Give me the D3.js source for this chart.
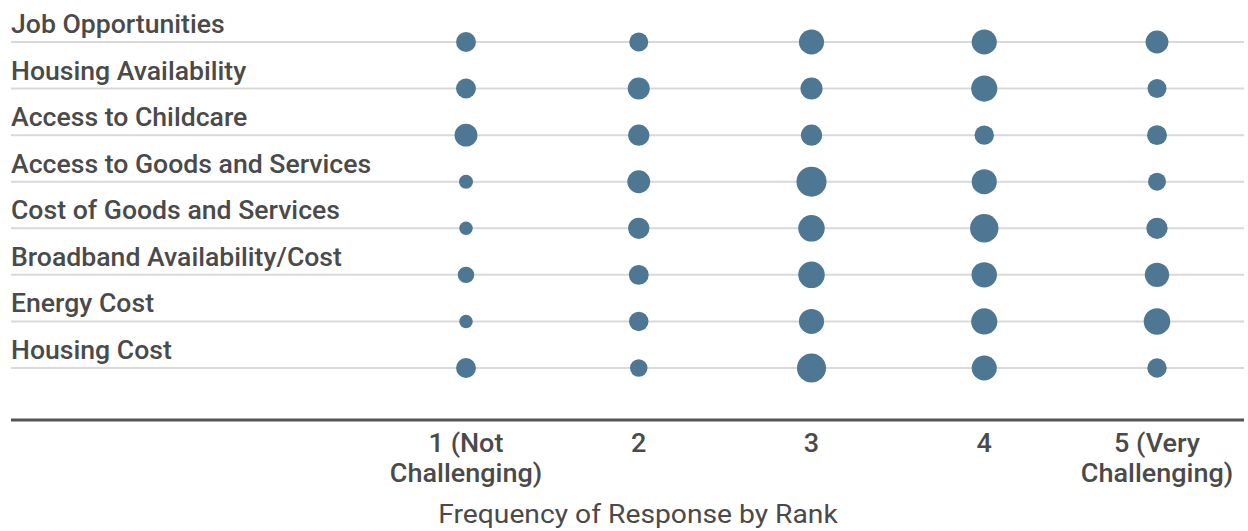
<!DOCTYPE html>
<html>
<head>
<meta charset="utf-8">
<script src="https://cdn.jsdelivr.net/npm/d3@7"></script>
<style>
  body { margin: 0; background: #fff; }
  svg text { font-family: Roboto, "Noto Sans", sans-serif; fill: #4a4a4a; }
</style>
</head>
<body>
<div class="chart"></div>
<script>
// survey challenges, frequency of each rank
var challenges = ["Job Opportunities", "Housing Availability", "Access to Childcare",
  "Access to Goods and Services", "Cost of Goods and Services",
  "Broadband Availability/Cost", "Energy Cost", "Housing Cost"];
var ranks = ["1", "2", "3", "4", "5"];
var rankLabels = [["1 (Not", "Challenging)"], ["2"], ["3"], ["4"], ["5 (Very", "Challenging)"]];

var jobOpp = [22, 20, 35, 35, 29];
var housingAvail = [22, 27, 27, 38, 20];
var childcare = [29, 25, 25, 21, 22];
var accessGoods = [11, 29, 50, 35, 18];
var costGoods = [10, 25, 39, 45, 25];
var broadband = [15, 22, 39, 36, 33];
var energyCost = [10, 21, 35, 38, 39];
var housingCost = [22, 17, 47, 35, 21];

var series = [jobOpp, housingAvail, childcare, accessGoods, costGoods, broadband, energyCost, housingCost];

function drawChart() {
    var w = 1248;
    var h = 531;
    var svg = d3.select(".chart")
                .append("svg")
                .attr("width", w)
                .attr("height", h);

    var x = d3.scalePoint().domain(ranks).range([466, 1157]);
    var y = d3.scalePoint().domain(challenges).range([42, 368]);
    var r = d3.scaleSqrt().domain([0, 50]).range([0, 15]);

    // row lines + labels
    var rows = svg.selectAll(".row")
                  .data(challenges)
                  .enter()
                  .append("g")
                  .attr("class", "row")
                  .attr("transform", function(d){ return "translate(0," + y(d) + ")"; });
    rows.append("line")
        .attr("x1", 11).attr("x2", 1244)
        .attr("stroke", "#d9d9d9")
        .attr("stroke-width", 2);
    rows.append("text")
        .attr("transform", "translate(11,-9) scale(1.065,1)")
        .style("font-size", "25px")
        .style("font-weight", 500)
        .text(function(d){ return d; });

    // bubbles
    var cells = [];
    series.forEach(function(vals, i){
        vals.forEach(function(v, j){
            cells.push({ row: challenges[i], rank: ranks[j], value: v });
        });
    });
    svg.selectAll("circle")
       .data(cells)
       .enter()
       .append("circle")
       .attr("cx", function(d){ return x(d.rank); })
       .attr("cy", function(d){ return y(d.row); })
       .attr("r", function(d){ return r(d.value); })
       .attr("fill", "#4e7793");

    // bottom axis
    svg.append("line")
       .attr("x1", 11).attr("x2", 1244)
       .attr("y1", 420).attr("y2", 420)
       .attr("stroke", "#555")
       .attr("stroke-width", 3);

    var ticks = svg.selectAll(".tick")
                   .data(ranks)
                   .enter()
                   .append("text")
                   .attr("class", "tick")
                   .attr("text-anchor", "middle")
                   .attr("transform", function(d){ return "translate(" + x(d) + ",452) scale(1.08,1)"; })
                   .style("font-size", "25px")
                   .style("font-weight", 500);
    ticks.selectAll("tspan")
         .data(function(d, i){ return rankLabels[i]; })
         .enter()
         .append("tspan")
         .attr("x", 0)
         .attr("dy", function(d, i){ return i == 0 ? 0 : 30; })
         .text(function(d){ return d; });

    svg.append("text")
       .attr("transform", "translate(638,523) scale(1.13,1)")
       .attr("text-anchor", "middle")
       .style("font-size", "25px")
       .text("Frequency of Response by Rank");
}
drawChart();
</script>
</body>
</html>
